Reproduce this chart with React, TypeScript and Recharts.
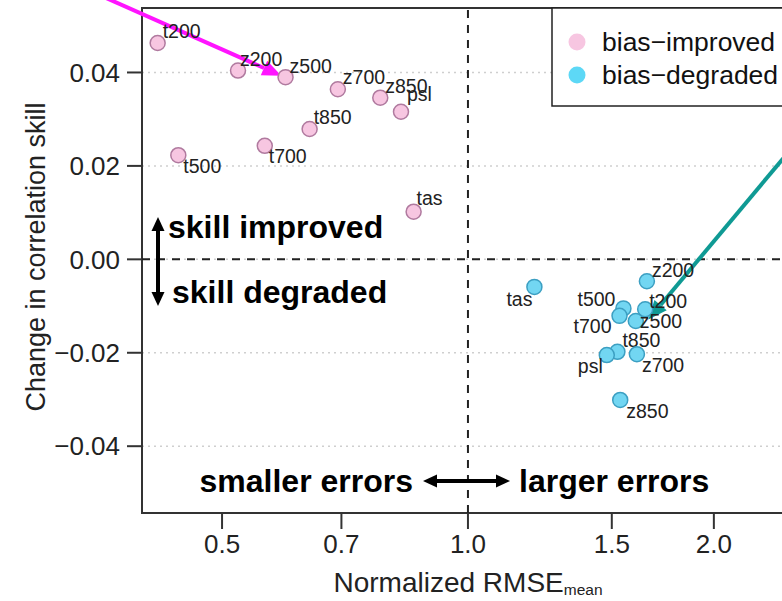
import React from "react";
import {
    ScatterChart,
    Scatter,
    XAxis,
    YAxis,
    CartesianGrid,
    ReferenceLine,
    ReferenceArea,
} from "recharts";

// bias-improved variables
const improvedNames = ["t200", "z200", "z500", "z700", "z850", "psl", "t850", "t700", "t500", "tas"];
const improvedRmse = [0.417, 0.523, 0.598, 0.693, 0.781, 0.828, 0.64, 0.564, 0.442, 0.858];
const improvedSkill = [0.0463, 0.0404, 0.039, 0.0364, 0.0346, 0.0316, 0.0279, 0.0243, 0.0223, 0.0102];

// bias-degraded variables
const degradedNames = ["tas", "z200", "t500", "t200", "t700", "z500", "t850", "psl", "z700", "z850"];
const degradedRmse = [1.206, 1.656, 1.55, 1.648, 1.533, 1.605, 1.524, 1.479, 1.61, 1.536];
const degradedSkill = [-0.0059, -0.0047, -0.0105, -0.0107, -0.0121, -0.0132, -0.0198, -0.0205, -0.0203, -0.0301];

const rmseTicks = [0.5, 0.7, 1.0, 1.5, 2.0];
const skillTicks = [-0.04, -0.02, 0, 0.02, 0.04];

const RMSE_DOMAIN: [number, number] = [0.399, 2.514];
const SKILL_DOMAIN: [number, number] = [-0.0543, 0.0538];

const FONT = '"Liberation Sans", Arial, Helvetica, sans-serif';

type Anchor = "start" | "end";
// label placement around each marker: [dx, dy to baseline, anchor]
const improvedLabelPos: Record<string, [number, number, Anchor]> = {
    t200: [5, -5, "start"],
    z200: [2, -5, "start"],
    z500: [4, -4, "start"],
    z700: [5, -5, "start"],
    z850: [5, -5, "start"],
    psl: [6, -11, "start"],
    t850: [4, -5, "start"],
    t700: [4, 17, "start"],
    t500: [5, 18, "start"],
    tas: [3, -7, "start"],
};
const degradedLabelPos: Record<string, [number, number, Anchor]> = {
    tas: [-2, 19, "end"],
    z200: [5, -4, "start"],
    t500: [-8, -2, "end"],
    t200: [4, -1, "start"],
    t700: [-8, 17, "end"],
    z500: [4, 7, "start"],
    t850: [5, -5, "start"],
    psl: [-4, 18, "end"],
    z700: [5, 18, "start"],
    z850: [6, 18, "start"],
};

const improved = improvedNames.map((name, i) => ({ name, rmse: improvedRmse[i], skill: improvedSkill[i] }));
const degraded = degradedNames.map((name, i) => ({ name, rmse: degradedRmse[i], skill: degradedSkill[i] }));

const PINK = { fill: "#f7c6e1", stroke: "#b07a9f" };
const CYAN = { fill: "#72d6f2", stroke: "#3c9fc2" };

function pointShape(colors: { fill: string; stroke: string }, placement: Record<string, [number, number, Anchor]>) {
    return (props: any) => {
        const { cx, cy, payload } = props;
        const [dx, dy, anchor] = placement[payload.name] || [5, -5, "start"];
        return (
            <g>
                <circle cx={cx} cy={cy} r={7.5} fill={colors.fill} stroke={colors.stroke} strokeWidth={1.5} />
                <text x={cx + dx} y={cy + dy} textAnchor={anchor} fontSize={19.5} fontFamily={FONT} fill="#222">
                    {payload.name}
                </text>
            </g>
        );
    };
}

function arrowShape(color: string, width: number, headLen: number, headHalf: number) {
    return (props: any) => {
        const { x1, y1, x2, y2 } = props;
        const ang = Math.atan2(y2 - y1, x2 - x1);
        const bx = x2 - headLen * Math.cos(ang);
        const by = y2 - headLen * Math.sin(ang);
        const px = -Math.sin(ang) * headHalf;
        const py = Math.cos(ang) * headHalf;
        return (
            <g>
                <line x1={x1} y1={y1} x2={bx} y2={by} stroke={color} strokeWidth={width} />
                <polygon points={`${x2},${y2} ${bx + px},${by + py} ${bx - px},${by - py}`} fill={color} />
            </g>
        );
    };
}

function DoubleArrow({ x1, y1, x2, y2 }: { x1: number; y1: number; x2: number; y2: number }) {
    const ang = Math.atan2(y2 - y1, x2 - x1);
    const c = Math.cos(ang);
    const s = Math.sin(ang);
    const len = 14;
    const half = 6.5;
    const head = (tx: number, ty: number, dir: number) => {
        const bx = tx - dir * len * c;
        const by = ty - dir * len * s;
        return `${tx},${ty} ${bx - s * half},${by + c * half} ${bx + s * half},${by - c * half}`;
    };
    return (
        <g>
            <line x1={x1 + len * c} y1={y1 + len * s} x2={x2 - len * c} y2={y2 - len * s} stroke="#000" strokeWidth={4} />
            <polygon points={head(x1, y1, -1)} fill="#000" />
            <polygon points={head(x2, y2, 1)} fill="#000" />
        </g>
    );
}

const fmtSkill = (v: number) => (v < 0 ? "\u2212" + Math.abs(v).toFixed(2) : v.toFixed(2));

export default function App() {
    return (
        <div
            style={{
                position: "fixed",
                left: 0,
                top: 0,
                width: 782,
                height: 601,
                overflow: "hidden",
                background: "#fff",
                fontFamily: FONT,
            }}
        >
            <ScatterChart width={820} height={601} margin={{ top: 8, right: 25, bottom: 0, left: 0 }}>
                <CartesianGrid vertical={false} stroke="#cfcfcf" strokeDasharray="2 4" strokeWidth={1.5} />
                <XAxis
                    type="number"
                    dataKey="rmse"
                    scale="log"
                    domain={RMSE_DOMAIN}
                    allowDataOverflow
                    ticks={rmseTicks}
                    tickFormatter={(v: number) => v.toFixed(1)}
                    axisLine={false}
                    tickLine={{ stroke: "#333", strokeWidth: 2 }}
                    tickSize={16}
                    tickMargin={6}
                    height={88}
                    tick={{ fontSize: 26, fill: "#222", fontFamily: FONT }}
                />
                <YAxis
                    type="number"
                    dataKey="skill"
                    domain={SKILL_DOMAIN}
                    allowDataOverflow
                    ticks={skillTicks}
                    tickFormatter={fmtSkill}
                    axisLine={false}
                    tickLine={{ stroke: "#333", strokeWidth: 2 }}
                    tickSize={15}
                    tickMargin={7}
                    width={142}
                    tick={{ fontSize: 26, fill: "#222", fontFamily: FONT }}
                />
                <ReferenceLine x={1} stroke="#222" strokeWidth={2} strokeDasharray="8 7" />
                <ReferenceLine y={0} stroke="#222" strokeWidth={2} strokeDasharray="8 7" />
                <ReferenceArea
                    x1={RMSE_DOMAIN[0]}
                    x2={RMSE_DOMAIN[1]}
                    y1={SKILL_DOMAIN[0]}
                    y2={SKILL_DOMAIN[1]}
                    fill="none"
                    stroke="#333"
                    strokeWidth={2}
                    ifOverflow="visible"
                />
                <Scatter
                    data={improved}
                    shape={pointShape(PINK, improvedLabelPos)}
                    isAnimationActive={false}
                />
                <Scatter
                    data={degraded}
                    shape={pointShape(CYAN, degradedLabelPos)}
                    isAnimationActive={false}
                />
                {/* pointer arrows */}
                <ReferenceLine
                    segment={[{ x: 0.36, y: 0.056 }, { x: 0.591, y: 0.0393 }]}
                    ifOverflow="visible"
                    shape={arrowShape("#ff14ff", 4, 19, 8)}
                />
                <ReferenceLine
                    segment={[{ x: 2.6, y: 0.0277 }, { x: 1.663, y: -0.0129 }]}
                    ifOverflow="visible"
                    shape={arrowShape("#0f9a94", 4, 19, 8)}
                />
            </ScatterChart>

            <svg
                width={782}
                height={601}
                style={{ position: "absolute", left: 0, top: 0, pointerEvents: "none" }}
                fontFamily={FONT}
            >
                {/* axis titles */}
                <text transform="translate(45,257) rotate(-90)" textAnchor="middle" fontSize={27} fill="#222">
                    Change in correlation skill
                </text>
                <text x={468} y={592} textAnchor="middle" fontSize={28} fill="#222">
                    Normalized RMSE
                    <tspan fontSize={15.5} dy={3}>mean</tspan>
                </text>

                {/* legend */}
                <rect x={552} y={8} width={243} height={98} fill="#fff" stroke="#222" strokeWidth={1.5} />
                <circle cx={577} cy={42} r={8.5} fill={PINK.fill} />
                <circle cx={577} cy={75} r={8.5} fill="#5dd8f6" />
                <text x={602} y={51} fontSize={26.5} fill="#111">bias{"\u2212"}improved</text>
                <text x={602} y={84} fontSize={26.5} fill="#111">bias{"\u2212"}degraded</text>

                {/* direction hints */}
                <DoubleArrow x1={158} y1={217} x2={158} y2={306} />
                <text x={168} y={238} fontSize={32} fontWeight="bold" fill="#000">skill improved</text>
                <text x={172} y={303} fontSize={32} fontWeight="bold" fill="#000">skill degraded</text>
                <DoubleArrow x1={423} y1={481} x2={510} y2={481} />
                <text x={413} y={492} textAnchor="end" fontSize={32} fontWeight="bold" fill="#000">smaller errors</text>
                <text x={519} y={492} fontSize={32} fontWeight="bold" fill="#000">larger errors</text>
            </svg>
        </div>
    );
}
